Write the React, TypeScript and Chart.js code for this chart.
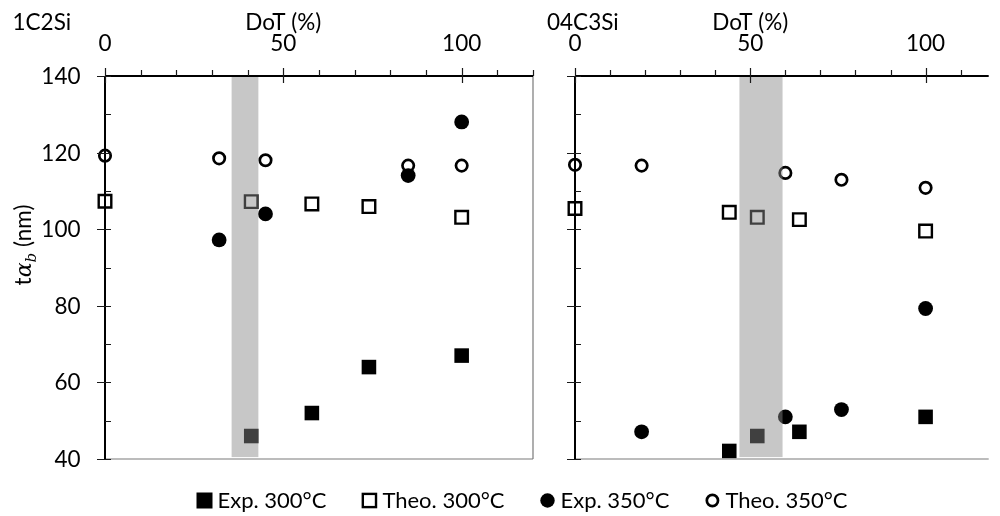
import React, { useEffect, useRef } from 'react';
import { Chart, registerables } from 'chart.js';

Chart.register(...registerables);

const FONT = 'Lato, "Open Sans", sans-serif';
const FONT_SIZE = 22.5;

const seriesLabels = ['Exp. 300°C', 'Theo. 300°C', 'Exp. 350°C', 'Theo. 350°C'];
const panelNames = ['1C2Si', '04C3Si'];
const xAxisTitle = 'DoT (%)';
const xTickLabels = [0, 50, 100];
const yTickLabels = [40, 60, 80, 100, 120, 140];

// Left panel: 1C2Si
const leftExp300X = [41, 58, 74, 100];
const leftExp300Y = [46, 52, 64, 67];
const leftTheo300X = [0, 41, 58, 74, 100];
const leftTheo300Y = [107.3, 107.2, 106.6, 105.9, 103.1];
const leftExp350X = [32, 45, 85, 100];
const leftExp350Y = [97.2, 104, 114, 128];
const leftTheo350X = [0, 32, 45, 85, 100];
const leftTheo350Y = [119.2, 118.5, 118.0, 116.6, 116.6];
const leftShade = [35.5, 43];

// Right panel: 04C3Si
const rightExp300X = [44, 52, 64, 100];
const rightExp300Y = [42.1, 46, 47.1, 51];
const rightTheo300X = [0, 44, 52, 64, 100];
const rightTheo300Y = [105.4, 104.4, 103.1, 102.5, 99.5];
const rightExp350X = [19, 60, 76, 100];
const rightExp350Y = [47.1, 51, 52.9, 79.3];
const rightTheo350X = [0, 19, 60, 76, 100];
const rightTheo350Y = [116.8, 116.6, 114.7, 112.9, 110.8];
const rightShade = [46.9, 59.2];

const pts = (xs: number[], ys: number[]) => xs.map((x, i) => ({ x, y: ys[i] }));

function makeDatasets(e3x, e3y, t3x, t3y, e5x, e5y, t5x, t5y) {
  return [
    {
      label: seriesLabels[0], data: pts(e3x, e3y), pointStyle: 'rect', pointRadius: 10.3,
      backgroundColor: '#000', borderColor: '#000', borderWidth: 0, clip: false, showLine: false,
    },
    {
      label: seriesLabels[1], data: pts(t3x, t3y), pointStyle: 'rect', pointRadius: 8.9,
      backgroundColor: '#fff', borderColor: '#000', borderWidth: 2.4, clip: false, showLine: false,
    },
    {
      label: seriesLabels[2], data: pts(e5x, e5y), pointStyle: 'circle', pointRadius: 7.4,
      backgroundColor: '#000', borderColor: '#000', borderWidth: 0, clip: false, showLine: false,
    },
    {
      label: seriesLabels[3], data: pts(t5x, t5y), pointStyle: 'circle', pointRadius: 5.7,
      backgroundColor: '#fff', borderColor: '#000', borderWidth: 2.7, clip: false, showLine: false,
    },
  ];
}

function panelPlugin(cfg: { shade: number[]; name: string; yLabels: boolean; rightBorder: boolean; legend: boolean; yTitle: boolean }) {
  return {
    id: 'panelDecor',
    afterDatasetsDraw(chart: any) {
      const { ctx } = chart;
      const xs = chart.scales.x, ys = chart.scales.y;
      const x0 = xs.getPixelForValue(cfg.shade[0]);
      const x1 = xs.getPixelForValue(cfg.shade[1]);
      const yt = ys.getPixelForValue(140);
      const yb = ys.getPixelForValue(40.5);
      ctx.save();
      ctx.fillStyle = 'rgba(137,137,137,0.47)';
      ctx.fillRect(x0, yt, x1 - x0, yb - yt);
      ctx.restore();
    },
    afterDraw(chart: any) {
      const { ctx, chartArea: ca } = chart;
      const xs = chart.scales.x, ys = chart.scales.y;
      ctx.save();
      // bottom / right borders (thin gray)
      ctx.strokeStyle = '#7a7a7a';
      ctx.lineWidth = 1.2;
      ctx.beginPath();
      ctx.moveTo(ca.left, ca.bottom);
      ctx.lineTo(ca.right, ca.bottom);
      if (cfg.rightBorder) {
        ctx.moveTo(ca.right, ca.top);
        ctx.lineTo(ca.right, ca.bottom);
      }
      ctx.stroke();
      // main axes
      ctx.strokeStyle = '#000';
      ctx.lineWidth = 2;
      ctx.beginPath();
      ctx.moveTo(ca.left, ca.top);
      ctx.lineTo(ca.right, ca.top);
      ctx.moveTo(ca.left, ca.top);
      ctx.lineTo(ca.left, ca.bottom);
      ctx.stroke();
      // ticks
      ctx.strokeStyle = '#1a1a1a';
      ctx.lineWidth = 1.2;
      ctx.beginPath();
      for (let v = xs.min; v <= xs.max + 1e-6; v += 10) {
        const px = Math.round(xs.getPixelForValue(v)) + 0.5;
        const major = v % 50 === 0;
        ctx.moveTo(px, ca.top - (major ? 8 : 6));
        ctx.lineTo(px, ca.top + (major ? 7 : 0));
      }
      for (let v = ys.min; v <= ys.max + 1e-6; v += 10) {
        const py = Math.round(ys.getPixelForValue(v)) + 0.5;
        const major = v % 20 === 0;
        ctx.moveTo(ca.left - (major ? 8 : 0), py);
        ctx.lineTo(ca.left + 6, py);
      }
      ctx.stroke();
      // labels
      ctx.fillStyle = '#000';
      ctx.font = `${FONT_SIZE}px ${FONT}`;
      ctx.textBaseline = 'alphabetic';
      ctx.textAlign = 'center';
      xTickLabels.forEach((v) => {
        ctx.fillText(String(v), xs.getPixelForValue(v), 50.5);
      });
      ctx.fillText(xAxisTitle, xs.getPixelForValue(50), 29.5);
      ctx.textAlign = 'left';
      ctx.fillText(cfg.name, ca.left - 92.5 + (cfg.yLabels ? 0 : 64.5), 29.5);
      if (cfg.yLabels) {
        ctx.textAlign = 'right';
        yTickLabels.forEach((v) => {
          ctx.fillText(String(v), 80.5, ys.getPixelForValue(v) + 8);
        });
      }
      if (cfg.yTitle) {
        const mainFont = `${FONT_SIZE}px ${FONT}`;
        const alphaFont = `italic 22px "DejaVu Serif", serif`;
        const subFont = `italic 15px "DejaVu Serif", serif`;
        const parts = [
          { t: 't', f: mainFont, dy: 0 },
          { t: 'α', f: alphaFont, dy: 0 },
          { t: 'b', f: subFont, dy: 5 },
          { t: ' (nm)', f: mainFont, dy: 0 },
        ];
        let total = 0;
        parts.forEach((p) => { ctx.font = p.f; total += ctx.measureText(p.t).width; });
        ctx.translate(31, 245);
        ctx.rotate(-Math.PI / 2);
        ctx.textAlign = 'left';
        let cx = -total / 2;
        parts.forEach((p) => {
          ctx.font = p.f;
          ctx.fillText(p.t, cx, p.dy);
          cx += ctx.measureText(p.t).width;
        });
        ctx.setTransform(1, 0, 0, 1, 0, 0);
      }
      if (cfg.legend) {
        ctx.font = `22px ${FONT}`;
        ctx.textAlign = 'left';
        const dss = chart.data.datasets;
        const widths = dss.map((d: any) => ctx.measureText(d.label).width);
        const total = widths.reduce((a: number, w: number) => a + 21 + w, 0) + 35 * (dss.length - 1);
        let cx = 522 - total / 2;
        const cy = 500.5;
        dss.forEach((d: any, i: number) => {
          const mx = cx + 8;
          ctx.fillStyle = '#000';
          ctx.strokeStyle = '#000';
          if (d.pointStyle === 'rect') {
            if (d.borderWidth > 0) {
              ctx.lineWidth = 2.4;
              ctx.fillStyle = '#fff';
              ctx.fillRect(mx - 6.6, cy - 6.6, 13.2, 13.2);
              ctx.strokeRect(mx - 6.6, cy - 6.6, 13.2, 13.2);
            } else {
              ctx.fillRect(mx - 8, cy - 8, 16, 16);
            }
          } else {
            ctx.beginPath();
            if (d.borderWidth > 0) {
              ctx.lineWidth = 2.7;
              ctx.arc(mx, cy, 5.6, 0, Math.PI * 2);
              ctx.stroke();
            } else {
              ctx.arc(mx, cy, 7.2, 0, Math.PI * 2);
              ctx.fill();
            }
          }
          ctx.fillStyle = '#000';
          ctx.fillText(d.label, cx + 21, 507.5);
          cx += 21 + widths[i] + 35;
        });
      }
      ctx.restore();
    },
  };
}

function baseOptions(xMax: number, padding: any) {
  return {
    responsive: false,
    animation: false as const,
    layout: { padding },
    plugins: { legend: { display: false }, tooltip: { enabled: false }, title: { display: false } },
    scales: {
      x: { type: 'linear' as const, min: 0, max: xMax, display: false },
      y: { type: 'linear' as const, min: 40, max: 140, display: false },
    },
    events: [],
  };
}

export default function App() {
  const leftRef = useRef<HTMLCanvasElement>(null);
  const rightRef = useRef<HTMLCanvasElement>(null);

  useEffect(() => {
    const left = new Chart(leftRef.current!, {
      type: 'scatter',
      data: {
        datasets: makeDatasets(leftExp300X, leftExp300Y, leftTheo300X, leftTheo300Y, leftExp350X, leftExp350Y, leftTheo350X, leftTheo350Y) as any,
      },
      options: baseOptions(120, { left: 105, top: 76, right: 467, bottom: 57 }) as any,
      plugins: [panelPlugin({ shade: leftShade, name: panelNames[0], yLabels: true, rightBorder: true, legend: true, yTitle: true })],
    });
    const right = new Chart(rightRef.current!, {
      type: 'scatter',
      data: {
        datasets: makeDatasets(rightExp300X, rightExp300Y, rightTheo300X, rightTheo300Y, rightExp350X, rightExp350Y, rightTheo350X, rightTheo350Y) as any,
      },
      options: baseOptions(118, { left: 35, top: 76, right: 0, bottom: 57 }) as any,
      plugins: [panelPlugin({ shade: rightShade, name: panelNames[1], yLabels: false, rightBorder: false, legend: false, yTitle: false })],
    });
    return () => {
      left.destroy();
      right.destroy();
    };
  }, []);

  return (
    <div style={{ position: 'fixed', left: 0, top: 0, width: 1000, height: 516, background: '#fff', overflow: 'hidden' }}>
      <canvas ref={leftRef} width={1000} height={516} style={{ position: 'absolute', left: 0, top: 0, width: 1000, height: 516 }} />
      <canvas ref={rightRef} width={460} height={516} style={{ position: 'absolute', left: 540, top: 0, width: 460, height: 516 }} />
    </div>
  );
}
